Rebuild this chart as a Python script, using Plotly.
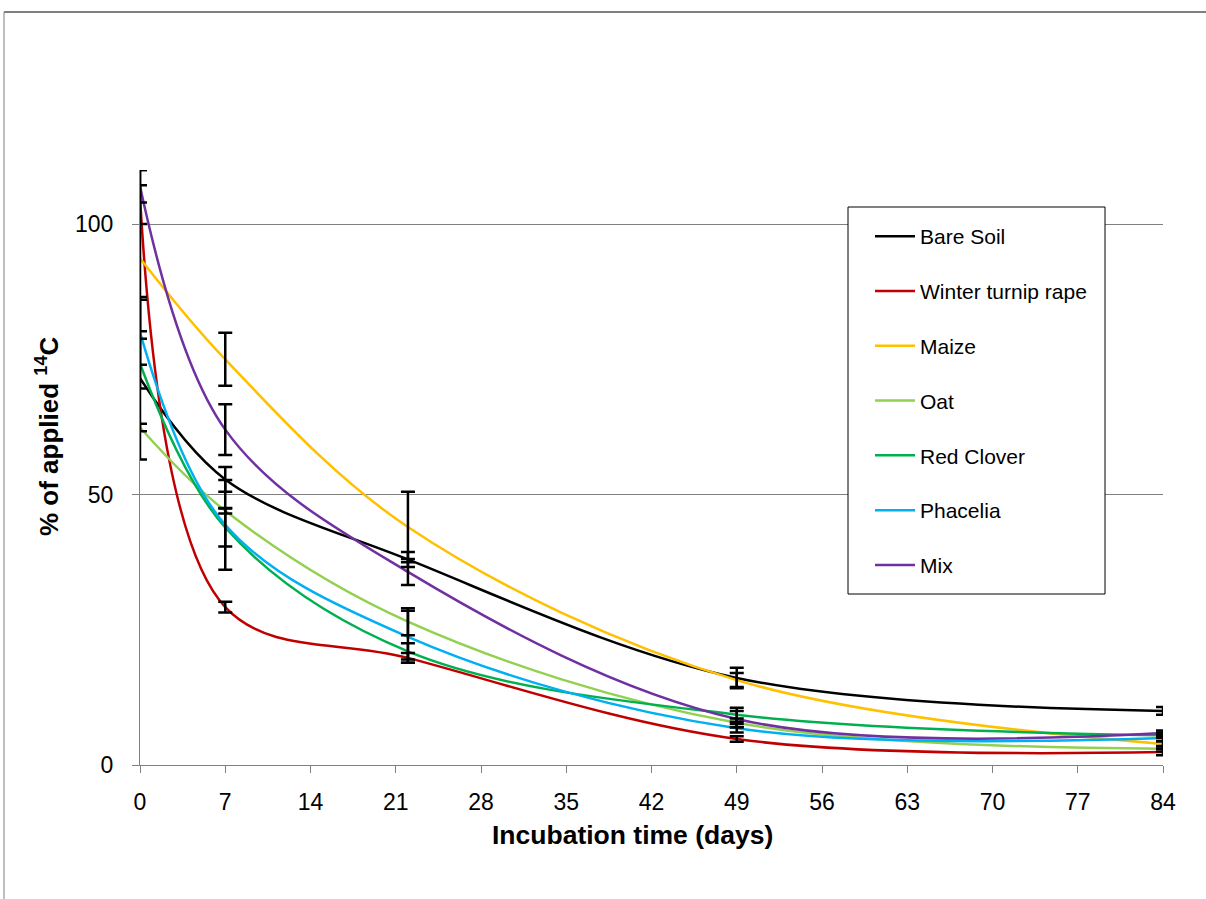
import plotly.graph_objects as go

days = [0, 7, 22, 49, 84]
series_names = ["Bare Soil", "Winter turnip rape", "Maize", "Oat", "Red Clover", "Phacelia", "Mix"]
bare_soil = [71.5, 52.8, 38.0, 16.1, 10.0]
winter_turnip_rape = [105.0, 29.2, 19.8, 4.8, 2.4]
maize = [93.7, 75.0, 44.0, 15.7, 3.9]
oat = [62.4, 47.0, 26.5, 7.8, 3.0]
red_clover = [74.2, 43.9, 21.0, 9.3, 5.5]
phacelia = [80.0, 44.4, 23.7, 6.8, 5.0]
mix = [107.0, 62.0, 35.7, 8.5, 5.9]

err_bare_soil = [15.0, 2.3, 1.4, 1.9, 0.7]
err_winter_turnip_rape = [5.0, 1.0, 0.9, 0.5, 0.6]
err_maize = [13.5, 4.9, 6.5, 1.3, 0.5]
err_oat = [0.7, 0.5, 2.5, 0.8, 0.5]
err_red_clover = [4.6, 3.5, 1.5, 1.3, 0.5]
err_phacelia = [6.0, 8.3, 4.8, 0.8, 0.6]
err_mix = [3.0, 4.7, 2.4, 1.5, 0.5]

x_ticks = [0, 7, 14, 21, 28, 35, 42, 49, 56, 63, 70, 77, 84]
y_ticks = [0, 50, 100]

values = [bare_soil, winter_turnip_rape, maize, oat, red_clover, phacelia, mix]
errors = [err_bare_soil, err_winter_turnip_rape, err_maize, err_oat, err_red_clover, err_phacelia, err_mix]
colors = ["#000000", "#C00000", "#FFC000", "#92D050", "#00B050", "#00B0F0", "#7030A0"]

FONT = "Liberation Sans, Arial, sans-serif"

fig = go.Figure()

for i, (name, vals, col) in enumerate(zip(series_names, values, colors)):
    fig.add_trace(go.Scatter(
        x=days, y=vals, name=name, mode="lines",
        line=dict(color=col, width=2.5, shape="spline", smoothing=1.0),
        legendgroup=f"g{i}", cliponaxis=False,
    ))

for name, vals, err in zip(series_names, values, errors):
    fig.add_trace(go.Scatter(
        x=days, y=vals, mode="markers", showlegend=False,
        marker=dict(size=1, opacity=0),
        error_y=dict(type="data", array=err, visible=True, color="#000000",
                     thickness=2.5, width=7),
        cliponaxis=False, hoverinfo="skip",
    ))

L, T, B = 140, 170, 134
R = 1206 - 1163
PW = 1206 - L - R
PH = 899 - T - B

def px2x(px):
    return (px - L) / PW

def py2y(py):
    return (899 - B - py) / PH

shapes = [
    dict(type="line", xref="paper", yref="paper", x0=px2x(4), x1=px2x(1210), y0=py2y(12), y1=py2y(12),
         line=dict(color="#000000", width=1)),
    dict(type="line", xref="paper", yref="paper", x0=px2x(4), x1=px2x(4), y0=py2y(12), y1=py2y(905),
         line=dict(color="#808080", width=1)),
    dict(type="rect", xref="paper", yref="paper", x0=px2x(848), x1=px2x(1105), y0=py2y(594), y1=py2y(207),
         line=dict(color="#000000", width=1), fillcolor="white", layer="above"),
]

annotations = [
    dict(text="<b>Incubation time (days)</b>", xref="paper", yref="paper",
         x=px2x(632), y=py2y(835), xanchor="center", yanchor="middle", showarrow=False,
         font=dict(family=FONT, size=26.5, color="#000000")),
    dict(text="<b>% of applied <sup>14</sup>C</b>", xref="paper", yref="paper",
         x=px2x(47), y=py2y(436), xanchor="center", yanchor="middle", showarrow=False, textangle=-90,
         font=dict(family=FONT, size=26, color="#000000")),
]

fig.update_layout(
    width=1206, height=899,
    margin=dict(l=L, r=R, t=T, b=B),
    paper_bgcolor="white", plot_bgcolor="white",
    font=dict(family=FONT, color="#000000"),
    shapes=shapes, annotations=annotations,
    legend=dict(x=px2x(870), y=py2y(216), xanchor="left", yanchor="top",
                bgcolor="rgba(0,0,0,0)", borderwidth=0, tracegroupgap=24.5,
                font=dict(family=FONT, size=21, color="#000000"), itemwidth=40),
    xaxis=dict(range=[0, 84], tickvals=x_ticks, ticktext=[str(v) for v in x_ticks],
               showgrid=False, zeroline=False, showline=True, linecolor="#808080", linewidth=1,
               ticks="outside", ticklen=7, tickcolor="#808080", tickwidth=1,
               tickfont=dict(family=FONT, size=23, color="#000000"), ticklabelstandoff=9),
    yaxis=dict(range=[0, 110], tickvals=y_ticks, ticktext=[str(v) for v in y_ticks],
               showgrid=True, gridcolor="#808080", gridwidth=1, zeroline=False,
               showline=True, linecolor="#808080", linewidth=1,
               ticks="outside", ticklen=7, tickcolor="#808080", tickwidth=1,
               tickfont=dict(family=FONT, size=23, color="#000000"), ticklabelstandoff=14),
)

fig.write_html("out.html")
